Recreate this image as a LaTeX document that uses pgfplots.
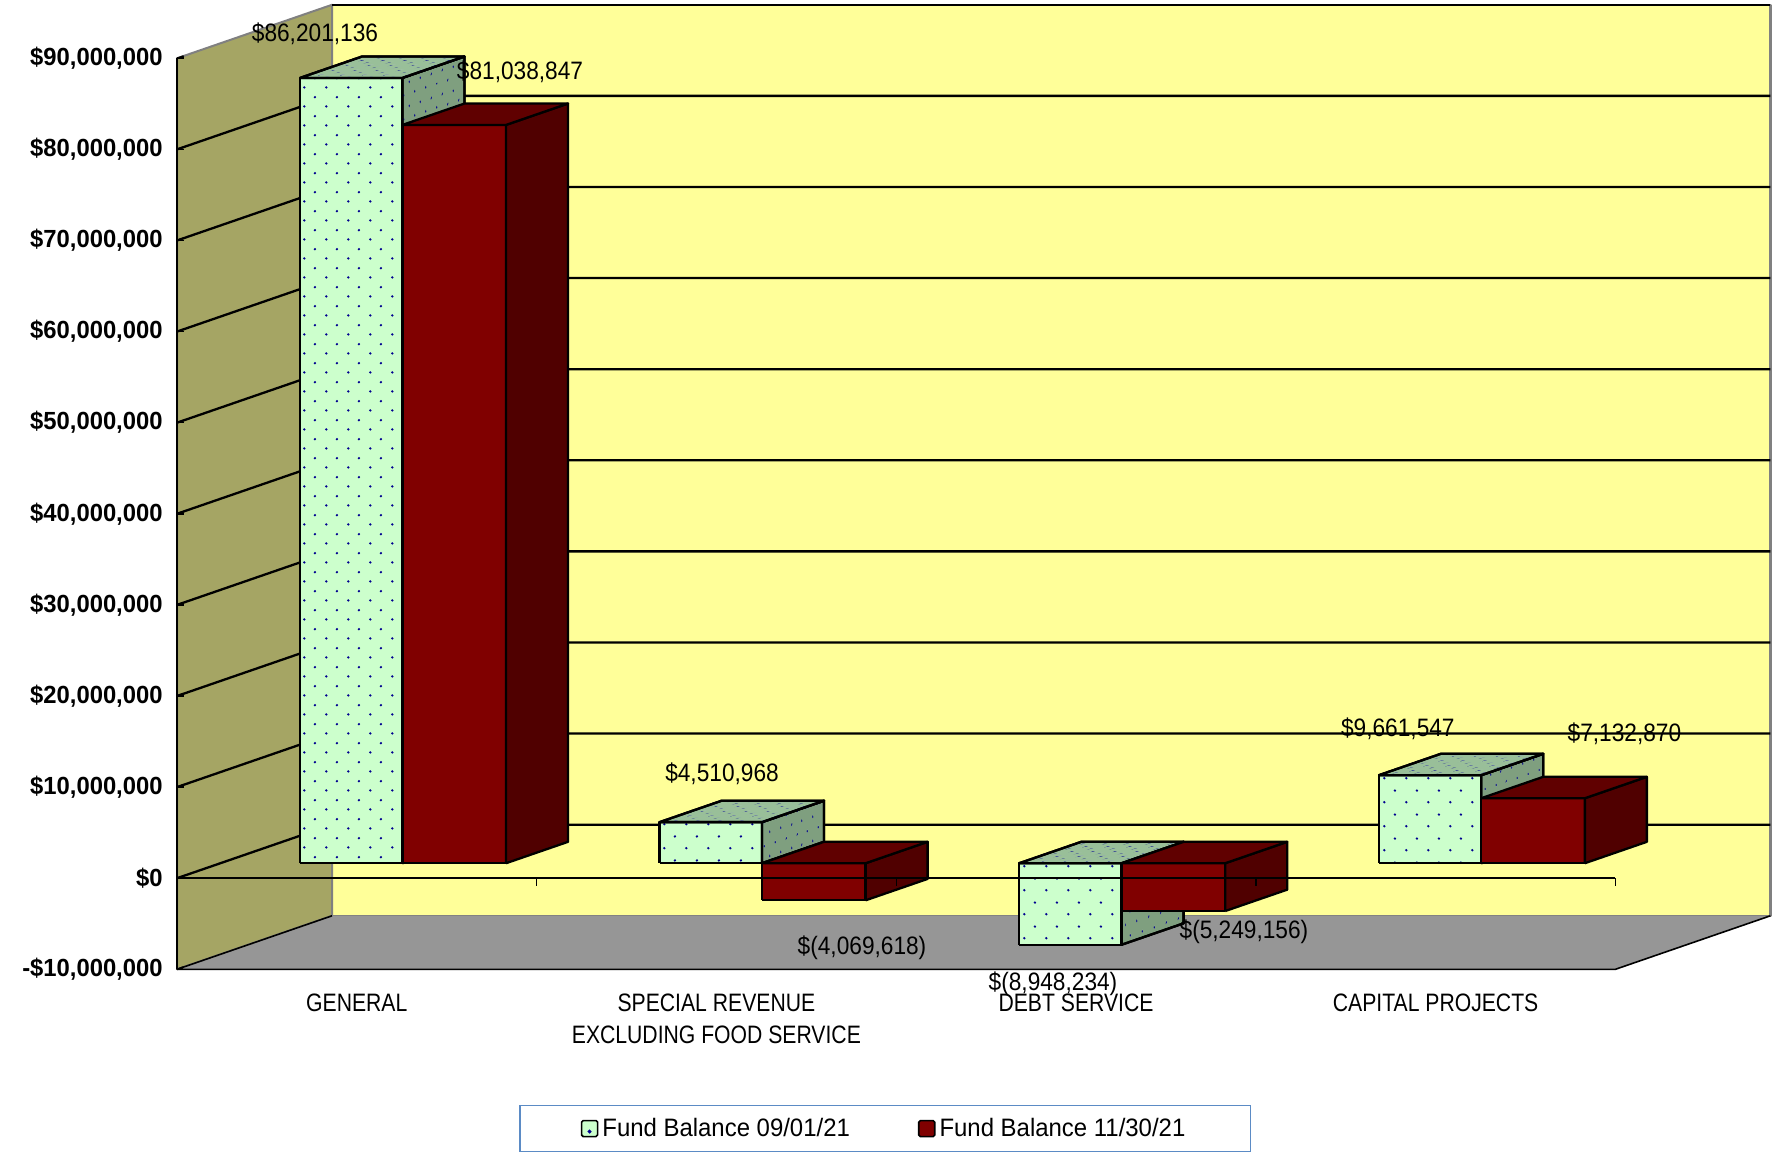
\documentclass[border=0pt]{standalone}
\usepackage{fontspec}
\usepackage{pgfplots}
\pgfplotsset{compat=1.18}
\usetikzlibrary{patterns.meta}
\setmainfont{Liberation Sans}[FakeStretch=0.9]
\newfontfamily\valuefont{Liberation Sans}[FakeStretch=0.9]
\newfontfamily\catfont{Liberation Sans}[FakeStretch=0.84]
\newfontfamily\legfont{Liberation Sans}[FakeStretch=0.95]
\newfontfamily\tickfont{Liberation Sans}[FakeStretch=0.96]

% Colours of the walls, the floor and the faces of the bars
\definecolor{wallback}{HTML}{FFFF99}
\definecolor{wallleft}{HTML}{A5A564}
\definecolor{floorgray}{HTML}{969696}
\definecolor{edgegray}{HTML}{808080}
\definecolor{mintfront}{HTML}{CCFFCC}
\definecolor{mintside}{HTML}{7F9F7F}
\definecolor{minttop}{HTML}{99BF99}
\definecolor{redfront}{HTML}{800000}
\definecolor{redside}{HTML}{500000}
\definecolor{redtop}{HTML}{600000}
\definecolor{dotblue}{HTML}{000090}
\definecolor{legendblue}{HTML}{5B8BC5}

% Staggered dot fill: name, tile height, phase x, phase y, dot radius, shear of x and y
\newcommand{\declaredots}[9]{%
  \pgfdeclarepattern{name=#1,type=uncolored,
    bottom left={\pgfqpoint{0pt}{0pt}},top right={\pgfqpoint{11pt}{#2pt}},
    tile size={\pgfqpoint{11pt}{#2pt}},
    tile transformation={\pgftransformcm{#6}{#7}{#8}{#9}{\pgfqpoint{#3pt}{#4pt}}},
    code={\pgfpathcircle{\pgfqpoint{2.75pt}{0.25*#2pt}}{#5pt}
          \pgfpathcircle{\pgfqpoint{8.25pt}{0.75*#2pt}}{#5pt}\pgfusepath{fill}}}%
}
\newcommand{\dotcircle}{}
% Front faces carry their own phase, taken from the corner of each box
\pgfdeclarepattern{name=frontA,type=uncolored,
  bottom left={\pgfqpoint{0pt}{0pt}},top right={\pgfqpoint{11pt}{9.6pt}},tile size={\pgfqpoint{11pt}{9.6pt}},
  tile transformation={\pgftransformshift{\pgfqpoint{149.75pt}{534.45pt}}},
  code={\pgfpathcircle{\pgfqpoint{2.75pt}{2.4pt}}{0.68pt}\pgfpathcircle{\pgfqpoint{8.25pt}{7.2pt}}{0.68pt}\pgfusepath{fill}}}
\pgfdeclarepattern{name=frontB,type=uncolored,
  bottom left={\pgfqpoint{0pt}{0pt}},top right={\pgfqpoint{11pt}{12pt}},tile size={\pgfqpoint{11pt}{12pt}},
  tile transformation={\pgftransformshift{\pgfqpoint{329.75pt}{161.35pt}}},
  code={\pgfpathcircle{\pgfqpoint{2.75pt}{3pt}}{0.68pt}\pgfpathcircle{\pgfqpoint{8.25pt}{9pt}}{0.68pt}\pgfusepath{fill}}}
\pgfdeclarepattern{name=frontC,type=uncolored,
  bottom left={\pgfqpoint{0pt}{0pt}},top right={\pgfqpoint{11pt}{12pt}},tile size={\pgfqpoint{11pt}{12pt}},
  tile transformation={\pgftransformshift{\pgfqpoint{509.55pt}{128.35pt}}},
  code={\pgfpathcircle{\pgfqpoint{2.75pt}{3pt}}{0.68pt}\pgfpathcircle{\pgfqpoint{8.25pt}{9pt}}{0.68pt}\pgfusepath{fill}}}
\pgfdeclarepattern{name=frontD,type=uncolored,
  bottom left={\pgfqpoint{0pt}{0pt}},top right={\pgfqpoint{11pt}{12pt}},tile size={\pgfqpoint{11pt}{12pt}},
  tile transformation={\pgftransformshift{\pgfqpoint{689.75pt}{184.35pt}}},
  code={\pgfpathcircle{\pgfqpoint{2.75pt}{3pt}}{0.68pt}\pgfpathcircle{\pgfqpoint{8.25pt}{9pt}}{0.68pt}\pgfusepath{fill}}}
% Side and top faces shear the same lattice along the depth direction
\pgfdeclarepattern{name=dotsside,type=uncolored,
  bottom left={\pgfqpoint{0pt}{0pt}},top right={\pgfqpoint{11pt}{12pt}},tile size={\pgfqpoint{11pt}{12pt}},
  tile transformation={\pgftransformcm{0.52}{0.18}{0}{1}{\pgfqpoint{0.5pt}{0.3pt}}},
  code={\pgfpathcircle{\pgfqpoint{2.75pt}{3pt}}{0.7pt}\pgfpathcircle{\pgfqpoint{8.25pt}{9pt}}{0.7pt}\pgfusepath{fill}}}
\pgfdeclarepattern{name=dotstop,type=uncolored,
  bottom left={\pgfqpoint{0pt}{0pt}},top right={\pgfqpoint{11pt}{12pt}},tile size={\pgfqpoint{11pt}{12pt}},
  tile transformation={\pgftransformcm{1}{0}{0.6}{0.21}{\pgfqpoint{0.5pt}{0.3pt}}},
  code={\pgfpathcircle{\pgfqpoint{2.75pt}{3pt}}{1.0pt}\pgfpathcircle{\pgfqpoint{8.25pt}{9pt}}{1.0pt}\pgfusepath{fill}}}

\pgfplotsset{
  surface/.style={forget plot,no markers,line join=round},
  gridline/.style={surface,draw=black,line width=1.15pt},
  face/.style={surface,draw=black,line width=1.15pt},
  mintAF/.style={face,preaction={fill=mintfront},pattern=frontA,pattern color=dotblue},
  mintBF/.style={face,preaction={fill=mintfront},pattern=frontB,pattern color=dotblue},
  mintCF/.style={face,preaction={fill=mintfront},pattern=frontC,pattern color=dotblue},
  mintDF/.style={face,preaction={fill=mintfront},pattern=frontD,pattern color=dotblue},
  mintAS/.style={face,preaction={fill=mintside},pattern=dotsside,pattern color=dotblue},
  mintBS/.style={mintAS},mintCS/.style={mintAS},mintDS/.style={mintAS},
  mintAT/.style={face,preaction={fill=minttop},pattern=dotstop,pattern color=dotblue},
  mintBT/.style={mintAT},mintCT/.style={mintAT},mintDT/.style={mintAT},
  redF/.style={face,fill=redfront},
  redS/.style={face,fill=redside},
  redT/.style={face,fill=redtop},
}

% One bar as a box: series prefix, left and right x, lower and upper value in $ million
\newcommand{\barbox}[5]{%
  \addplot3[#1F] coordinates {(#2,0.28,#4) (#3,0.28,#4) (#3,0.28,#5) (#2,0.28,#5) (#2,0.28,#4)};
  \addplot3[#1S] coordinates {(#3,0.28,#4) (#3,0.68,#4) (#3,0.68,#5) (#3,0.28,#5) (#3,0.28,#4)};
  \addplot3[#1T] coordinates {(#2,0.28,#5) (#3,0.28,#5) (#3,0.68,#5) (#2,0.68,#5) (#2,0.28,#5)};
}
% A horizontal rule on the back wall and its run along the left wall
\newcommand{\wallgrid}[1]{%
  \addplot3[gridline] coordinates {(0,0,#1) (0,1,#1) (4,1,#1)};
}

\begin{document}
\begin{tikzpicture}
\path[use as bounding box] (0,0) rectangle (886pt,576pt);
\begin{axis}[
  at={(88.5pt,136.9pt)},anchor=origin,
  x={(179.8pt,0pt)},y={(77.5pt,26.75pt)},z={(0pt,4.555pt)},
  xmin=0,xmax=4,ymin=0,ymax=1,zmin=-10,zmax=90,
  clip=false,
  axis on top,
  axis lines*=left,
  x axis line style={draw=none},y axis line style={draw=none},
  z axis line style={draw=black,line width=1.15pt},
  ztick={-10,0,...,90},
  zticklabels={{-\$10,000,000},{\$0},{\$10,000,000},{\$20,000,000},{\$30,000,000},{\$40,000,000},{\$50,000,000},{\$60,000,000},{\$70,000,000},{\$80,000,000},{\$90,000,000}},
  zticklabel style={font=\tickfont\bfseries\fontsize{12.4pt}{14pt}\selectfont,anchor=east,xshift=-7pt,inner xsep=0pt},
  ztick style={draw=black,line width=0.8pt},
  major tick length=3.5pt,
  ytick=\empty,
  xtick={0.5,1.5,2.5,3.5},
  xticklabels={GENERAL,{SPECIAL REVENUE\\EXCLUDING FOOD SERVICE},DEBT SERVICE,CAPITAL PROJECTS},
  xticklabel style={font=\catfont\fontsize{12.6pt}{16pt}\selectfont,align=center,anchor=north,yshift=-8.6pt},
  x tick style={draw=none},
  legend columns=2,
  legend style={at={(axis cs:1.969,0,-27.48)},anchor=center,
    draw=legendblue,line width=0.8pt,inner xsep=30.5pt,inner ysep=4.2pt,
    font=\legfont\fontsize{12.6pt}{15pt}\selectfont,
    /tikz/every even column/.append style={column sep=32pt}},
]
% Walls and floor
\addplot3[surface,fill=wallback,draw=edgegray,line width=1.2pt] coordinates {(0,1,-10) (4,1,-10) (4,1,90) (0,1,90) (0,1,-10)};
\addplot3[surface,fill=wallleft,draw=edgegray,line width=1pt] coordinates {(0,0,-10) (0,1,-10) (0,1,90) (0,0,90) (0,0,-10)};
\addplot3[surface,fill=floorgray,draw=none] coordinates {(0,0,-10) (4,0,-10) (4,1,-10) (0,1,-10) (0,0,-10)};
\addplot3[gridline,line width=0.8pt] coordinates {(0,1,-10) (0,0,-10) (4,0,-10) (4,1,-10)};
\addplot3[gridline] coordinates {(0,1,90) (4,1,90)};
% Horizontal rules, every $10 million
\wallgrid{0}\wallgrid{10}\wallgrid{20}\wallgrid{30}\wallgrid{40}
\wallgrid{50}\wallgrid{60}\wallgrid{70}\wallgrid{80}

% Fund balances in $ million: 09/01/21 then 11/30/21 in each category
\barbox{mintA}{0.2214}{0.5062}{0}{86.201136}
\barbox{red}{0.5062}{0.7943}{0}{81.038847}
\barbox{mintB}{1.2214}{1.5062}{0}{4.510968}
\barbox{red}{1.5062}{1.7943}{-4.069618}{0}
\barbox{mintC}{2.2214}{2.5062}{-8.948234}{0}
\barbox{red}{2.5062}{2.7943}{-5.249156}{0}
\barbox{mintD}{3.2214}{3.5062}{0}{9.661547}
\barbox{red}{3.5062}{3.7943}{0}{7.132870}

% Zero line with its category ticks, in front of the bars
\addplot3[gridline,line width=1pt] coordinates {(0,0,0) (4,0,0)};
\addplot3[surface,draw=black,line width=0.7pt] coordinates {(0,0,0) (0,0,-0.88)};
\addplot3[surface,draw=black,line width=0.7pt] coordinates {(1,0,0) (1,0,-0.88)};
\addplot3[surface,draw=black,line width=0.7pt] coordinates {(2,0,0) (2,0,-0.88)};
\addplot3[surface,draw=black,line width=0.7pt] coordinates {(3,0,0) (3,0,-0.88)};
\addplot3[surface,draw=black,line width=0.7pt] coordinates {(4,0,0) (4,0,-0.88)};

% Value labels
\begin{scope}[every node/.style={font=\valuefont\fontsize{12.6pt}{14pt}\selectfont,inner sep=0pt,yshift=-1pt}]
\node at (axis cs:0.3837,0,92.92) {\$86,201,136};
\node at (axis cs:0.9538,0,88.72) {\$81,038,847};
\node at (axis cs:1.5156,0,11.66) {\$4,510,968};
\node at (axis cs:1.9049,0,-7.44) {\$(4,069,618)};
\node at (axis cs:2.4360,0,-11.39) {\$(8,948,234)};
\node at (axis cs:2.9670,0,-5.69) {\$(5,249,156)};
\node at (axis cs:3.3950,0,16.60) {\$9,661,547};
\node at (axis cs:4.0250,0,16.05) {\$7,132,870};
\end{scope}

\addlegendimage{legend image code/.code={%
  \draw[black,line width=0.8pt,fill=mintfront,rounded corners=0.8pt] (0pt,-4pt) rectangle (8pt,4pt);
  \fill[dotblue] (4pt,-1.5pt) circle (0.5pt);}}
\addlegendentry{Fund Balance 09/01/21}
\addlegendimage{legend image code/.code={%
  \draw[black,line width=0.8pt,fill=redfront,rounded corners=0.8pt] (0pt,-4pt) rectangle (8pt,4pt);}}
\addlegendentry{Fund Balance 11/30/21}
\end{axis}
\end{tikzpicture}
\end{document}
